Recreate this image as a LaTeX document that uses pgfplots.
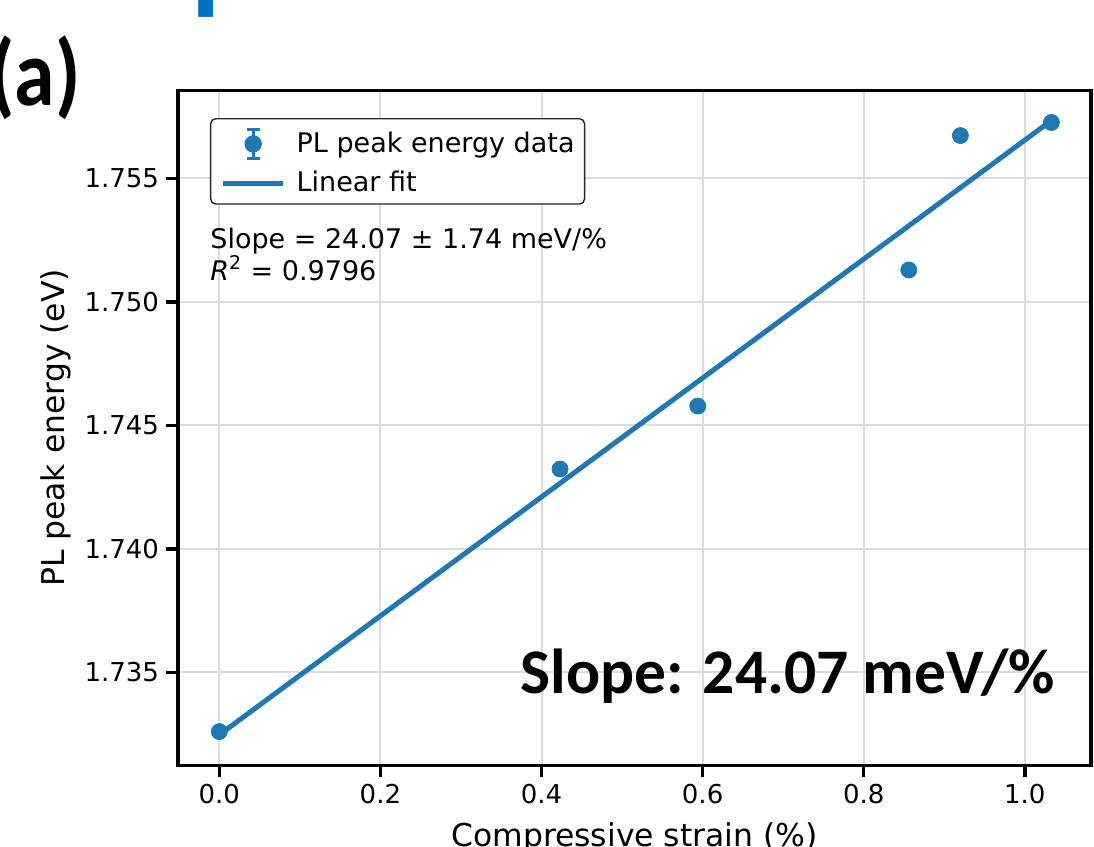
\documentclass[border=0pt]{standalone}
\usepackage{pgfplots}
\pgfplotsset{compat=1.18}
\usepackage{fontspec}
\setmainfont{DejaVu Sans}
\newfontfamily\carlito{Carlito}
\definecolor{c1}{HTML}{1F77B4}
\definecolor{gridc}{RGB}{220,220,220}
\definecolor{titleblue}{RGB}{0,112,192}
\newcommand{\fs}{\fontsize{13bp}{16bp}\selectfont}
\newcommand{\fl}{\fontsize{13.5bp}{16bp}\selectfont}
\newcommand{\fa}{\fontsize{15.7bp}{19bp}\selectfont}

\begin{document}
\begin{tikzpicture}[x=1bp,y=1bp]
\path[use as bounding box] (0,0) rectangle (547,-423);
\begin{axis}[
  at={(89bp,-45.35bp)}, anchor=north west,
  width=456.5bp, height=337.3bp, scale only axis,
  xmin=-0.0513, xmax=1.0822, ymin=1.731235, ymax=1.758547,
  scaled ticks=false,
  xtick={0,0.2,0.4,0.6,0.8,1.0},
  ytick={1.735,1.740,1.745,1.750,1.755},
  tick label style={font=\fs},
  xticklabel style={/pgf/number format/.cd, fixed, fixed zerofill, precision=1, assume math mode=true},
  yticklabel style={/pgf/number format/.cd, fixed, fixed zerofill, precision=3, assume math mode=true},
  label style={font=\fa},
  xlabel={Compressive strain (\%)},
  xlabel style={yshift=-2.5bp},
  ylabel={PL peak energy (eV)},
  grid=major, major grid style={draw=gridc, line width=1bp},
  axis line style={line width=1.75bp},
  tick style={line width=1.75bp, black},
  major tick length=6bp,
  tick align=outside,
  xtick pos=bottom, ytick pos=left,
  legend cell align=left,
  legend style={at={(0.035,0.9595)}, anchor=north west, font=\fl, draw=black!85,
    rounded corners=2.5bp, line width=0.7bp, inner xsep=5bp, inner ysep=4.6bp, row sep=5.7bp,
    nodes={inner sep=0pt},
    /tikz/every odd column/.append style={column sep=5.5bp}},
]
\addplot[c1, only marks, mark=*, mark size=4bp, mark options={draw=c1, fill=c1},
  legend image code/.code={
    \draw[c1, line width=1.5bp] (15bp,-7.25bp) -- (15bp,7.25bp);
    \draw[c1, line width=1.5bp] (11.75bp,-7.25bp) -- (18.25bp,-7.25bp);
    \draw[c1, line width=1.5bp] (11.75bp,7.25bp) -- (18.25bp,7.25bp);
    \fill[c1] (15bp,0bp) circle (4bp);
    \path[draw=none] (0bp,0bp) -- (30bp,0bp);
  }] coordinates {
  (0.000,1.73260) (0.423,1.74323) (0.594,1.74578) (0.856,1.75129) (0.920,1.75673) (1.033,1.75726)
};
\addlegendentry{PL peak energy data}
\addplot[c1, line width=2.5bp, no marks,
  legend image code/.code={\draw[c1, line width=2.5bp] (0bp,0bp) -- (30bp,0bp);}]
  coordinates {(0,1.73247) (1.033,1.75734)};
\addlegendentry{Linear fit}
\node[anchor=base west, font=\fl, inner sep=0pt] at (rel axis cs:0.035,0.7668) {Slope = 24.07 ± 1.74 meV/\%};
\node[anchor=base west, font=\fl, inner sep=0pt] at (rel axis cs:0.035,0.7194) {\textit{R}\textsuperscript{2} = 0.9796};
\node[anchor=base east, font=\carlito\bfseries\fontsize{31.75bp}{38bp}\selectfont, inner sep=0pt] at (rel axis cs:0.9606,0.1072) {Slope: 24.07 meV/\%};
\end{axis}
\node[anchor=base west, inner sep=0pt, font=\carlito\bfseries\fontsize{47bp}{52bp}\selectfont] at (-5.5,-52.5) {\scalebox{0.87}[1]{(a)}};
\node[anchor=base west, inner sep=0pt, text=titleblue, font=\carlito\bfseries\fontsize{60bp}{70bp}\selectfont] at (95.5,0.6) {pressure-induced shift};
\end{tikzpicture}
\end{document}
